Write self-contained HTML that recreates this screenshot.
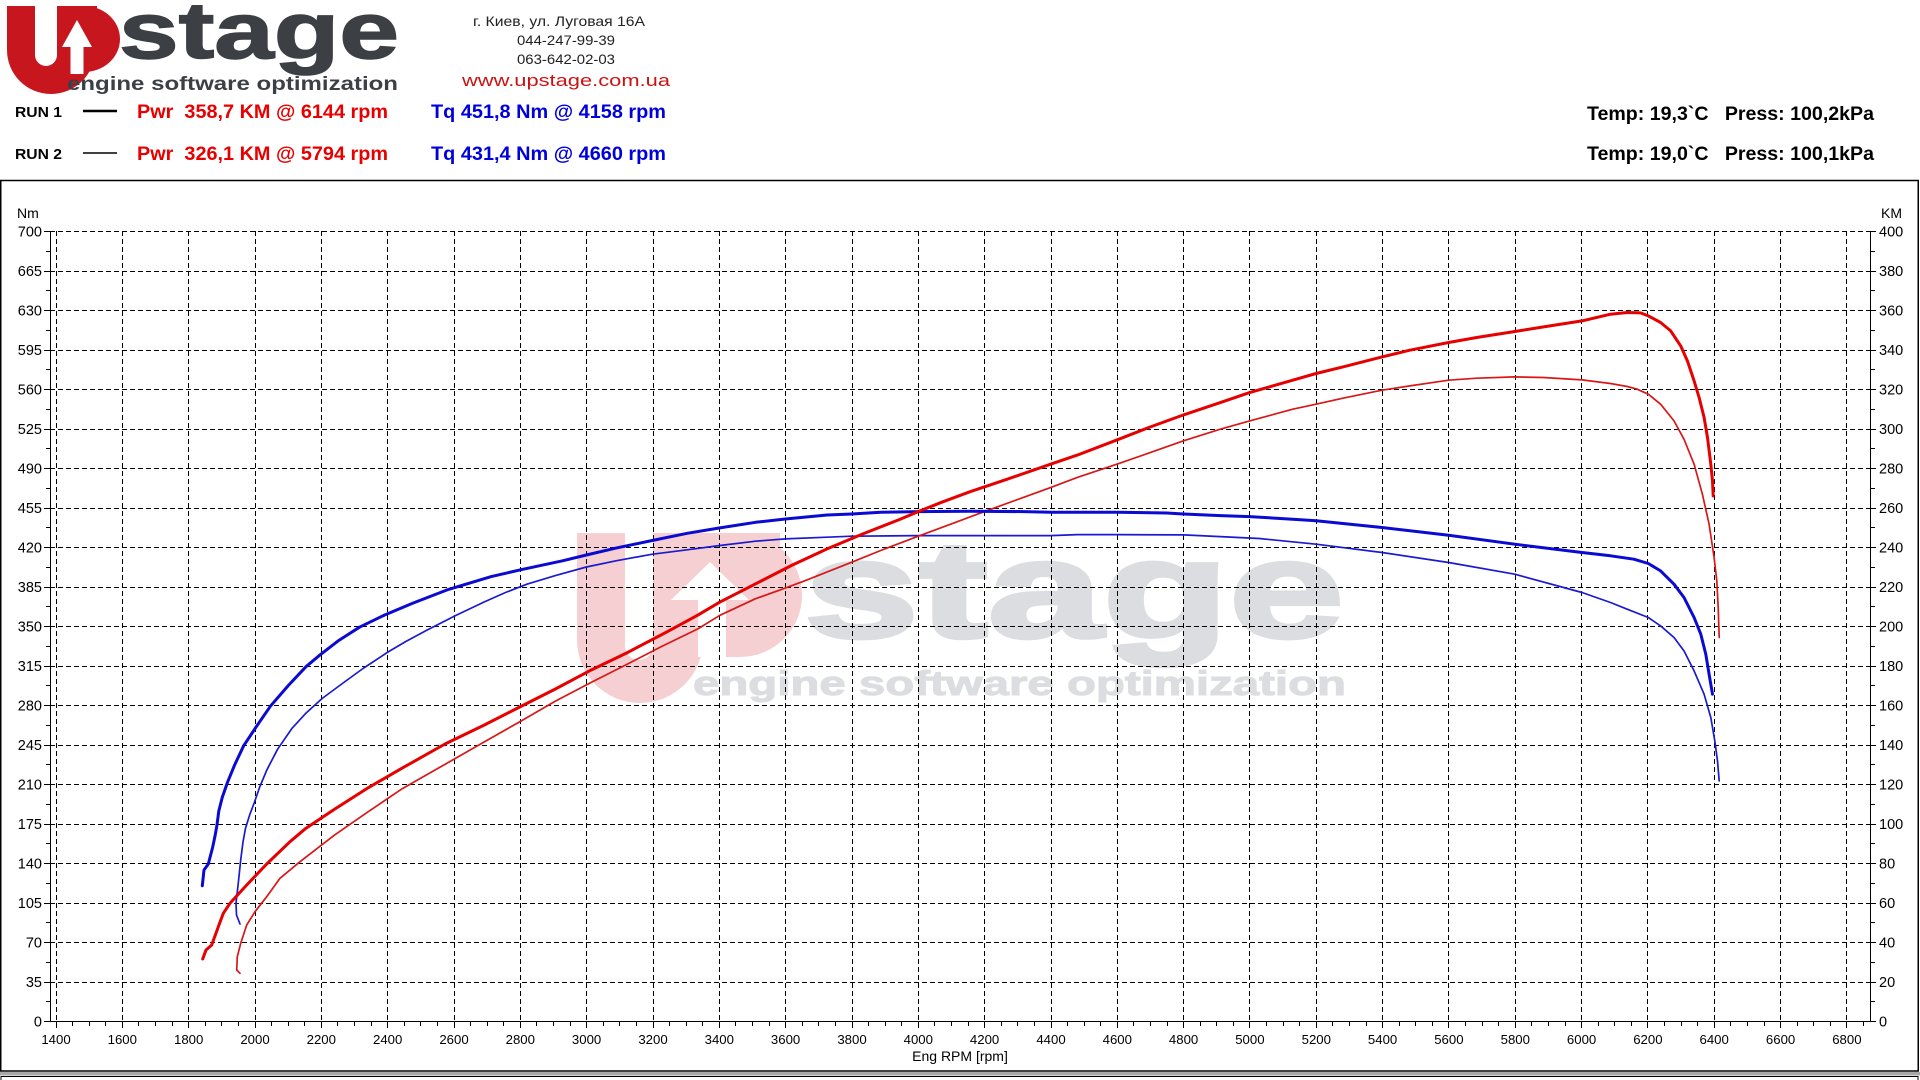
<!DOCTYPE html>
<html><head><meta charset="utf-8"><style>
html,body{margin:0;padding:0;background:#fff;}
svg{display:block;}
text{font-family:"Liberation Sans","Noto Sans CJK SC",sans-serif;}
</style></head><body>
<svg width="1920" height="1080" viewBox="0 0 1920 1080" xmlns="http://www.w3.org/2000/svg">
<rect x="0" y="0" width="1920" height="1080" fill="#fff"/>

<!-- Header logo -->
<g>
  <rect x="7" y="6" width="90" height="44" fill="#c8161e"/>
  <circle cx="51" cy="50" r="44" fill="#c8161e"/>
  <path d="M57,6 H84 A36,33 0 0 1 84,72 H57 Z" fill="#c8161e"/>
  <rect x="35" y="0" width="22" height="55" fill="#fff"/>
  <circle cx="46" cy="55" r="11" fill="#fff"/>
  <polygon points="62,47 77,20 92,47" fill="#fff"/>
  <rect x="70.5" y="46" width="13" height="28" fill="#fff"/>
  <text x="119" y="58" font-size="80" font-weight="bold" fill="#3c3f44" stroke="#3c3f44" stroke-width="1.5" textLength="280" lengthAdjust="spacingAndGlyphs">stage</text>
  <text x="67" y="90" font-size="19" font-weight="bold" fill="#3c3f44" textLength="331" lengthAdjust="spacingAndGlyphs">engine software optimization</text>
</g>

<!-- contact -->
<text x="559" y="26" font-size="14" fill="#222" text-anchor="middle" textLength="172" lengthAdjust="spacingAndGlyphs">г. Киев, ул. Луговая 16А</text>
<text x="566" y="45" font-size="14" fill="#222" text-anchor="middle" textLength="98" lengthAdjust="spacingAndGlyphs">044-247-99-39</text>
<text x="566" y="64" font-size="14" fill="#222" text-anchor="middle" textLength="98" lengthAdjust="spacingAndGlyphs">063-642-02-03</text>
<text x="566" y="86" font-size="17" fill="#cc1111" text-anchor="middle" textLength="208" lengthAdjust="spacingAndGlyphs">www.upstage.com.ua</text>

<!-- run legend -->
<text x="15" y="117" font-size="15" font-weight="bold" fill="#000" textLength="47" lengthAdjust="spacingAndGlyphs">RUN 1</text>
<line x1="83" y1="111" x2="117" y2="111" stroke="#000" stroke-width="2.5"/>
<text x="137" y="118" font-size="19" font-weight="bold" fill="#e80000" textLength="251" lengthAdjust="spacingAndGlyphs">Pwr&#160; 358,7 KM @ 6144 rpm</text>
<text x="431" y="118" font-size="19" font-weight="bold" fill="#0000dd" textLength="235" lengthAdjust="spacingAndGlyphs">Tq 451,8 Nm @ 4158 rpm</text>

<text x="15" y="159" font-size="15" font-weight="bold" fill="#000" textLength="47" lengthAdjust="spacingAndGlyphs">RUN 2</text>
<line x1="83" y1="153" x2="117" y2="153" stroke="#000" stroke-width="1.5"/>
<text x="137" y="160" font-size="19" font-weight="bold" fill="#e80000" textLength="251" lengthAdjust="spacingAndGlyphs">Pwr&#160; 326,1 KM @ 5794 rpm</text>
<text x="431" y="160" font-size="19" font-weight="bold" fill="#0000dd" textLength="235" lengthAdjust="spacingAndGlyphs">Tq 431,4 Nm @ 4660 rpm</text>

<text x="1587" y="120" font-size="19" font-weight="bold" fill="#000" textLength="287" lengthAdjust="spacingAndGlyphs">Temp: 19,3`C&#160;&#160; Press: 100,2kPa</text>
<text x="1587" y="160" font-size="19" font-weight="bold" fill="#000" textLength="287" lengthAdjust="spacingAndGlyphs">Temp: 19,0`C&#160;&#160; Press: 100,1kPa</text>

<!-- frame -->
<rect x="0.75" y="180.5" width="1917.5" height="890.5" fill="#fff" stroke="#000" stroke-width="1.5"/>
<rect x="0" y="1072" width="1920" height="3.5" fill="#a8a8a8"/>
<rect x="1" y="1076.5" width="1917" height="10" fill="#fff" stroke="#000" stroke-width="1"/>

<!-- watermark -->
<g>
  <rect x="577" y="533" width="203" height="107" fill="#f5cfd1"/>
  <circle cx="640" cy="640" r="63" fill="#f5cfd1"/>
  <path d="M653,533 H740 A62,62 0 0 1 740,657 H653 Z" fill="#f5cfd1"/>
  <rect x="625" y="533" width="28" height="113" fill="#fff"/>
  <circle cx="639" cy="646" r="14" fill="#fff"/>
  <polygon points="671,600 710,562 749,600" fill="#fff"/>
  <rect x="698" y="599" width="28" height="58" fill="#fff"/>
  <text x="804" y="637" font-size="138" font-weight="bold" fill="#dcdde0" stroke="#dcdde0" stroke-width="4" textLength="540" lengthAdjust="spacingAndGlyphs">stage</text>
  <text x="693" y="695" font-size="34" font-weight="bold" fill="#dcdde0" stroke="#dcdde0" stroke-width="1" textLength="653" lengthAdjust="spacingAndGlyphs">engine software optimization</text>
</g>

<!-- grid -->
<g stroke="#000" stroke-width="1" stroke-dasharray="5,3" shape-rendering="crispEdges" fill="none">
<path d="M50 231.5H1870M50 271.5H1870M50 310.5H1870M50 350.5H1870M50 389.5H1870M50 429.5H1870M50 468.5H1870M50 508.5H1870M50 547.5H1870M50 587.5H1870M50 626.5H1870M50 666.5H1870M50 705.5H1870M50 745.5H1870M50 784.5H1870M50 824.5H1870M50 863.5H1870M50 903.5H1870M50 942.5H1870M50 982.5H1870"/>
<path d="M56.5 231V1021M122.5 231V1021M188.5 231V1021M255.5 231V1021M321.5 231V1021M387.5 231V1021M454.5 231V1021M520.5 231V1021M586.5 231V1021M653.5 231V1021M719.5 231V1021M785.5 231V1021M852.5 231V1021M918.5 231V1021M984.5 231V1021M1051.5 231V1021M1117.5 231V1021M1183.5 231V1021M1249.5 231V1021M1316.5 231V1021M1382.5 231V1021M1448.5 231V1021M1515.5 231V1021M1581.5 231V1021M1647.5 231V1021M1714.5 231V1021M1780.5 231V1021M1846.5 231V1021"/>
</g>

<!-- axes -->
<g stroke="#000" stroke-width="1" fill="none" shape-rendering="crispEdges">
<path d="M50.5 231V1022M1870.5 231V1022M50 1021.5H1871"/>
<path d="M44 231.5h6M44 271.5h6M44 310.5h6M44 350.5h6M44 389.5h6M44 429.5h6M44 468.5h6M44 508.5h6M44 547.5h6M44 587.5h6M44 626.5h6M44 666.5h6M44 705.5h6M44 745.5h6M44 784.5h6M44 824.5h6M44 863.5h6M44 903.5h6M44 942.5h6M44 982.5h6M44 1021.5h6"/>
<path d="M46 251.5h4M46 290.5h4M46 330.5h4M46 369.5h4M46 409.5h4M46 448.5h4M46 488.5h4M46 527.5h4M46 567.5h4M46 606.5h4M46 646.5h4M46 685.5h4M46 725.5h4M46 764.5h4M46 804.5h4M46 843.5h4M46 883.5h4M46 922.5h4M46 962.5h4M46 1001.5h4"/>
<path d="M1870 231.5h6M1870 271.5h6M1870 310.5h6M1870 350.5h6M1870 389.5h6M1870 429.5h6M1870 468.5h6M1870 508.5h6M1870 547.5h6M1870 587.5h6M1870 626.5h6M1870 666.5h6M1870 705.5h6M1870 745.5h6M1870 784.5h6M1870 824.5h6M1870 863.5h6M1870 903.5h6M1870 942.5h6M1870 982.5h6M1870 1021.5h6"/>
<path d="M1870 251.5h5M1870 290.5h5M1870 330.5h5M1870 369.5h5M1870 409.5h5M1870 448.5h5M1870 488.5h5M1870 527.5h5M1870 567.5h5M1870 606.5h5M1870 646.5h5M1870 685.5h5M1870 725.5h5M1870 764.5h5M1870 804.5h5M1870 843.5h5M1870 883.5h5M1870 922.5h5M1870 962.5h5M1870 1001.5h5"/>
<path d="M56.5 1022v6M122.5 1022v6M188.5 1022v6M255.5 1022v6M321.5 1022v6M387.5 1022v6M454.5 1022v6M520.5 1022v6M586.5 1022v6M653.5 1022v6M719.5 1022v6M785.5 1022v6M852.5 1022v6M918.5 1022v6M984.5 1022v6M1051.5 1022v6M1117.5 1022v6M1183.5 1022v6M1249.5 1022v6M1316.5 1022v6M1382.5 1022v6M1448.5 1022v6M1515.5 1022v6M1581.5 1022v6M1647.5 1022v6M1714.5 1022v6M1780.5 1022v6M1846.5 1022v6"/>
<path d="M72.5 1022v4M89.5 1022v4M105.5 1022v4M138.5 1022v4M155.5 1022v4M172.5 1022v4M205.5 1022v4M221.5 1022v4M238.5 1022v4M271.5 1022v4M288.5 1022v4M304.5 1022v4M337.5 1022v4M354.5 1022v4M371.5 1022v4M404.5 1022v4M420.5 1022v4M437.5 1022v4M470.5 1022v4M487.5 1022v4M503.5 1022v4M536.5 1022v4M553.5 1022v4M570.5 1022v4M603.5 1022v4M619.5 1022v4M636.5 1022v4M669.5 1022v4M686.5 1022v4M702.5 1022v4M735.5 1022v4M752.5 1022v4M769.5 1022v4M802.5 1022v4M818.5 1022v4M835.5 1022v4M868.5 1022v4M885.5 1022v4M901.5 1022v4M934.5 1022v4M951.5 1022v4M968.5 1022v4M1001.5 1022v4M1017.5 1022v4M1034.5 1022v4M1067.5 1022v4M1084.5 1022v4M1100.5 1022v4M1133.5 1022v4M1150.5 1022v4M1167.5 1022v4M1200.5 1022v4M1216.5 1022v4M1233.5 1022v4M1266.5 1022v4M1283.5 1022v4M1299.5 1022v4M1332.5 1022v4M1349.5 1022v4M1366.5 1022v4M1399.5 1022v4M1415.5 1022v4M1432.5 1022v4M1465.5 1022v4M1482.5 1022v4M1498.5 1022v4M1531.5 1022v4M1548.5 1022v4M1565.5 1022v4M1598.5 1022v4M1614.5 1022v4M1631.5 1022v4M1664.5 1022v4M1681.5 1022v4M1697.5 1022v4M1730.5 1022v4M1747.5 1022v4M1764.5 1022v4M1797.5 1022v4M1813.5 1022v4M1830.5 1022v4M1863.5 1022v4"/>
</g>

<!-- left labels -->
<g font-size="14.5" fill="#000" text-anchor="end">
<text x="17" y="218" text-anchor="start" font-size="14">Nm</text>
<text x="42" y="236.5">700</text>
<text x="42" y="276">665</text>
<text x="42" y="315.5">630</text>
<text x="42" y="355">595</text>
<text x="42" y="394.5">560</text>
<text x="42" y="434">525</text>
<text x="42" y="473.5">490</text>
<text x="42" y="513">455</text>
<text x="42" y="552.5">420</text>
<text x="42" y="592">385</text>
<text x="42" y="631.5">350</text>
<text x="42" y="671">315</text>
<text x="42" y="710.5">280</text>
<text x="42" y="750">245</text>
<text x="42" y="789.5">210</text>
<text x="42" y="829">175</text>
<text x="42" y="868.5">140</text>
<text x="42" y="908">105</text>
<text x="42" y="947.5">70</text>
<text x="42" y="987">35</text>
<text x="42" y="1026.5">0</text>
</g>

<!-- right labels -->
<g font-size="14.5" fill="#000" text-anchor="start">
<text x="1881" y="218" font-size="14">KM</text>
<text x="1879" y="236.5">400</text>
<text x="1879" y="276">380</text>
<text x="1879" y="315.5">360</text>
<text x="1879" y="355">340</text>
<text x="1879" y="394.5">320</text>
<text x="1879" y="434">300</text>
<text x="1879" y="473.5">280</text>
<text x="1879" y="513">260</text>
<text x="1879" y="552.5">240</text>
<text x="1879" y="592">220</text>
<text x="1879" y="631.5">200</text>
<text x="1879" y="671">180</text>
<text x="1879" y="710.5">160</text>
<text x="1879" y="750">140</text>
<text x="1879" y="789.5">120</text>
<text x="1879" y="829">100</text>
<text x="1879" y="868.5">80</text>
<text x="1879" y="908">60</text>
<text x="1879" y="947.5">40</text>
<text x="1879" y="987">20</text>
<text x="1879" y="1026.5">0</text>
</g>

<!-- x labels -->
<g font-size="13.2" fill="#000" text-anchor="middle">
<text x="56" y="1044">1400</text>
<text x="122.3" y="1044">1600</text>
<text x="188.7" y="1044">1800</text>
<text x="255" y="1044">2000</text>
<text x="321.3" y="1044">2200</text>
<text x="387.7" y="1044">2400</text>
<text x="454" y="1044">2600</text>
<text x="520.3" y="1044">2800</text>
<text x="586.6" y="1044">3000</text>
<text x="653" y="1044">3200</text>
<text x="719.3" y="1044">3400</text>
<text x="785.6" y="1044">3600</text>
<text x="852" y="1044">3800</text>
<text x="918.3" y="1044">4000</text>
<text x="984.6" y="1044">4200</text>
<text x="1051" y="1044">4400</text>
<text x="1117.3" y="1044">4600</text>
<text x="1183.6" y="1044">4800</text>
<text x="1249.9" y="1044">5000</text>
<text x="1316.3" y="1044">5200</text>
<text x="1382.6" y="1044">5400</text>
<text x="1448.9" y="1044">5600</text>
<text x="1515.3" y="1044">5800</text>
<text x="1581.6" y="1044">6000</text>
<text x="1647.9" y="1044">6200</text>
<text x="1714.2" y="1044">6400</text>
<text x="1780.6" y="1044">6600</text>
<text x="1846.9" y="1044">6800</text>
<text x="960" y="1061" font-size="14">Eng RPM [rpm]</text>
</g>

<!-- curves -->
<g fill="none" stroke-linejoin="round" stroke-linecap="round">
<polyline stroke="#1a1ad0" stroke-width="1.7" points="240,924 236.5,915 236,903.3 238.3,883 240.7,860 243,842 245.5,828.2 249.8,814.5 254.4,802.4 259.7,787 266.9,769.8 277.6,749.2 291.8,728.6 306,713.1 322.1,698.5 341.7,684 363,668.5 388,652 405.8,641.5 427.2,630 455.7,615.5 484.1,602 505.5,592.5 526.9,584.2 555.4,575.6 586.4,567 616,560.8 651.6,554.3 687.2,549.8 719.9,545.5 755.6,541.2 785.3,538.9 827.1,537.2 851.8,536.2 918.3,535.6 984.4,535.6 1050.9,535.6 1077.3,534.6 1117.3,534.6 1183.5,534.9 1220.3,536.6 1259.2,538.5 1316.1,544.2 1382,552.5 1448.6,562.5 1514.8,574.2 1582,592.5 1610.5,602.5 1627.2,609.2 1648.3,617.5 1660.6,625.9 1674,637.5 1684,650.9 1694.1,670.9 1704.1,694.2 1710.8,717.5 1714.8,740.9 1717.5,760.9 1719.2,780.9"/>
<polyline stroke="#d81818" stroke-width="1.7" points="240,973.3 236.7,970 237.3,956.7 240.7,943.3 246.7,925 255,911.7 266.7,896.7 280,878.3 300,861.7 334.5,835.1 366.6,812.8 402.2,788.7 441.4,766.4 480.6,744 519.8,721.7 555.4,701.1 591,682.5 626.6,664.5 662.3,646.1 697.9,628.9 719.9,615.3 755.6,598.7 785.3,588.1 805.7,580.4 851.8,562.2 880.7,550.5 918.3,536.2 948.6,524.9 984.4,511.6 1023.7,497.3 1050.9,487.4 1077.3,477.4 1117.3,464.1 1148.8,453.1 1183.5,440.8 1220.3,429.2 1249.6,420.9 1292.7,409.2 1316.1,404.2 1342.9,398.2 1382,390.2 1409.8,385.9 1448.6,380.2 1476.7,378.2 1514.8,376.9 1543.6,377.5 1582,379.9 1610.5,383.5 1627.2,386.5 1637.2,389.2 1648.3,394.2 1660.6,404.2 1674,420.9 1684,439.2 1694.1,464.2 1702.4,494.2 1709.1,524.2 1714.1,557.5 1716.8,580.9 1718.2,607.5 1719.2,637.5"/>
<polyline stroke="#0a0ad2" stroke-width="3" points="202.3,885.7 204,870 208.3,864 212.7,847.1 215.2,835.1 217,824.8 218.8,811 222.3,797.3 227.7,781.8 234.8,764.6 243.7,745.7 256.2,726.8 270.4,706.2 288.2,685.6 306,666.7 320.3,654.7 338.1,640.9 359.5,627.2 384.4,615.1 412.9,603.1 448.5,589.4 491.3,576.6 520.5,569.8 562.5,560.8 586.4,555 616,548.1 651.6,540.6 687.2,533.3 719.9,527.9 755.6,522.3 785.3,519 827.1,515 851.8,514 880.7,512.3 918.3,511.6 970.1,511.3 1023.7,511.6 1050.9,512.3 1117.3,512.3 1166.6,513 1183.5,514 1220.3,515.6 1249.6,516.6 1292.7,519.2 1316.1,520.8 1382,527.5 1448.6,535.2 1514.8,544.2 1582,552.5 1610.5,555.8 1633.9,559.2 1648.3,563.5 1660.6,570.9 1674,584.2 1684,597.5 1694.1,617.5 1700.8,634.2 1705.8,654.2 1709.1,674.2 1712.5,694.2"/>
<polyline stroke="#e60000" stroke-width="3" points="202.7,959 206,950 211.7,945 218.3,926.7 223.3,913.3 230,903.3 246.7,885 266.7,864 290,841.7 306,828.2 334.5,809.3 366.6,788.7 402.2,768.1 445,744 484.1,725.1 518,707.9 555.4,689 591,670.1 626.6,653 669.4,630.6 697.9,615.1 719.9,602.1 755.6,583.8 791.4,565.5 827.1,548.9 862.9,533.9 898.6,519.9 918.3,511.6 941.5,502.3 970.1,491.7 1005.8,479.7 1050.9,464.1 1077.3,455.1 1117.3,439.8 1148.8,427.5 1183.5,414.9 1220.3,402.6 1249.6,392.6 1292.7,380.2 1316.1,373.5 1342.9,366.9 1382,356.9 1409.8,350.2 1448.6,342.5 1476.7,337.5 1514.8,331.5 1543.6,326.9 1582,320.9 1610.5,314.2 1627.2,312.5 1640.6,312.9 1648.3,315.9 1660.6,322.5 1670.7,330.9 1680.7,345.9 1687.4,360.9 1694.1,380.9 1699.1,397.5 1704.1,417.5 1707.5,437.5 1710.8,464.2 1712.5,480.9 1713.2,495.9"/>
</g>
</svg>
</body></html>
